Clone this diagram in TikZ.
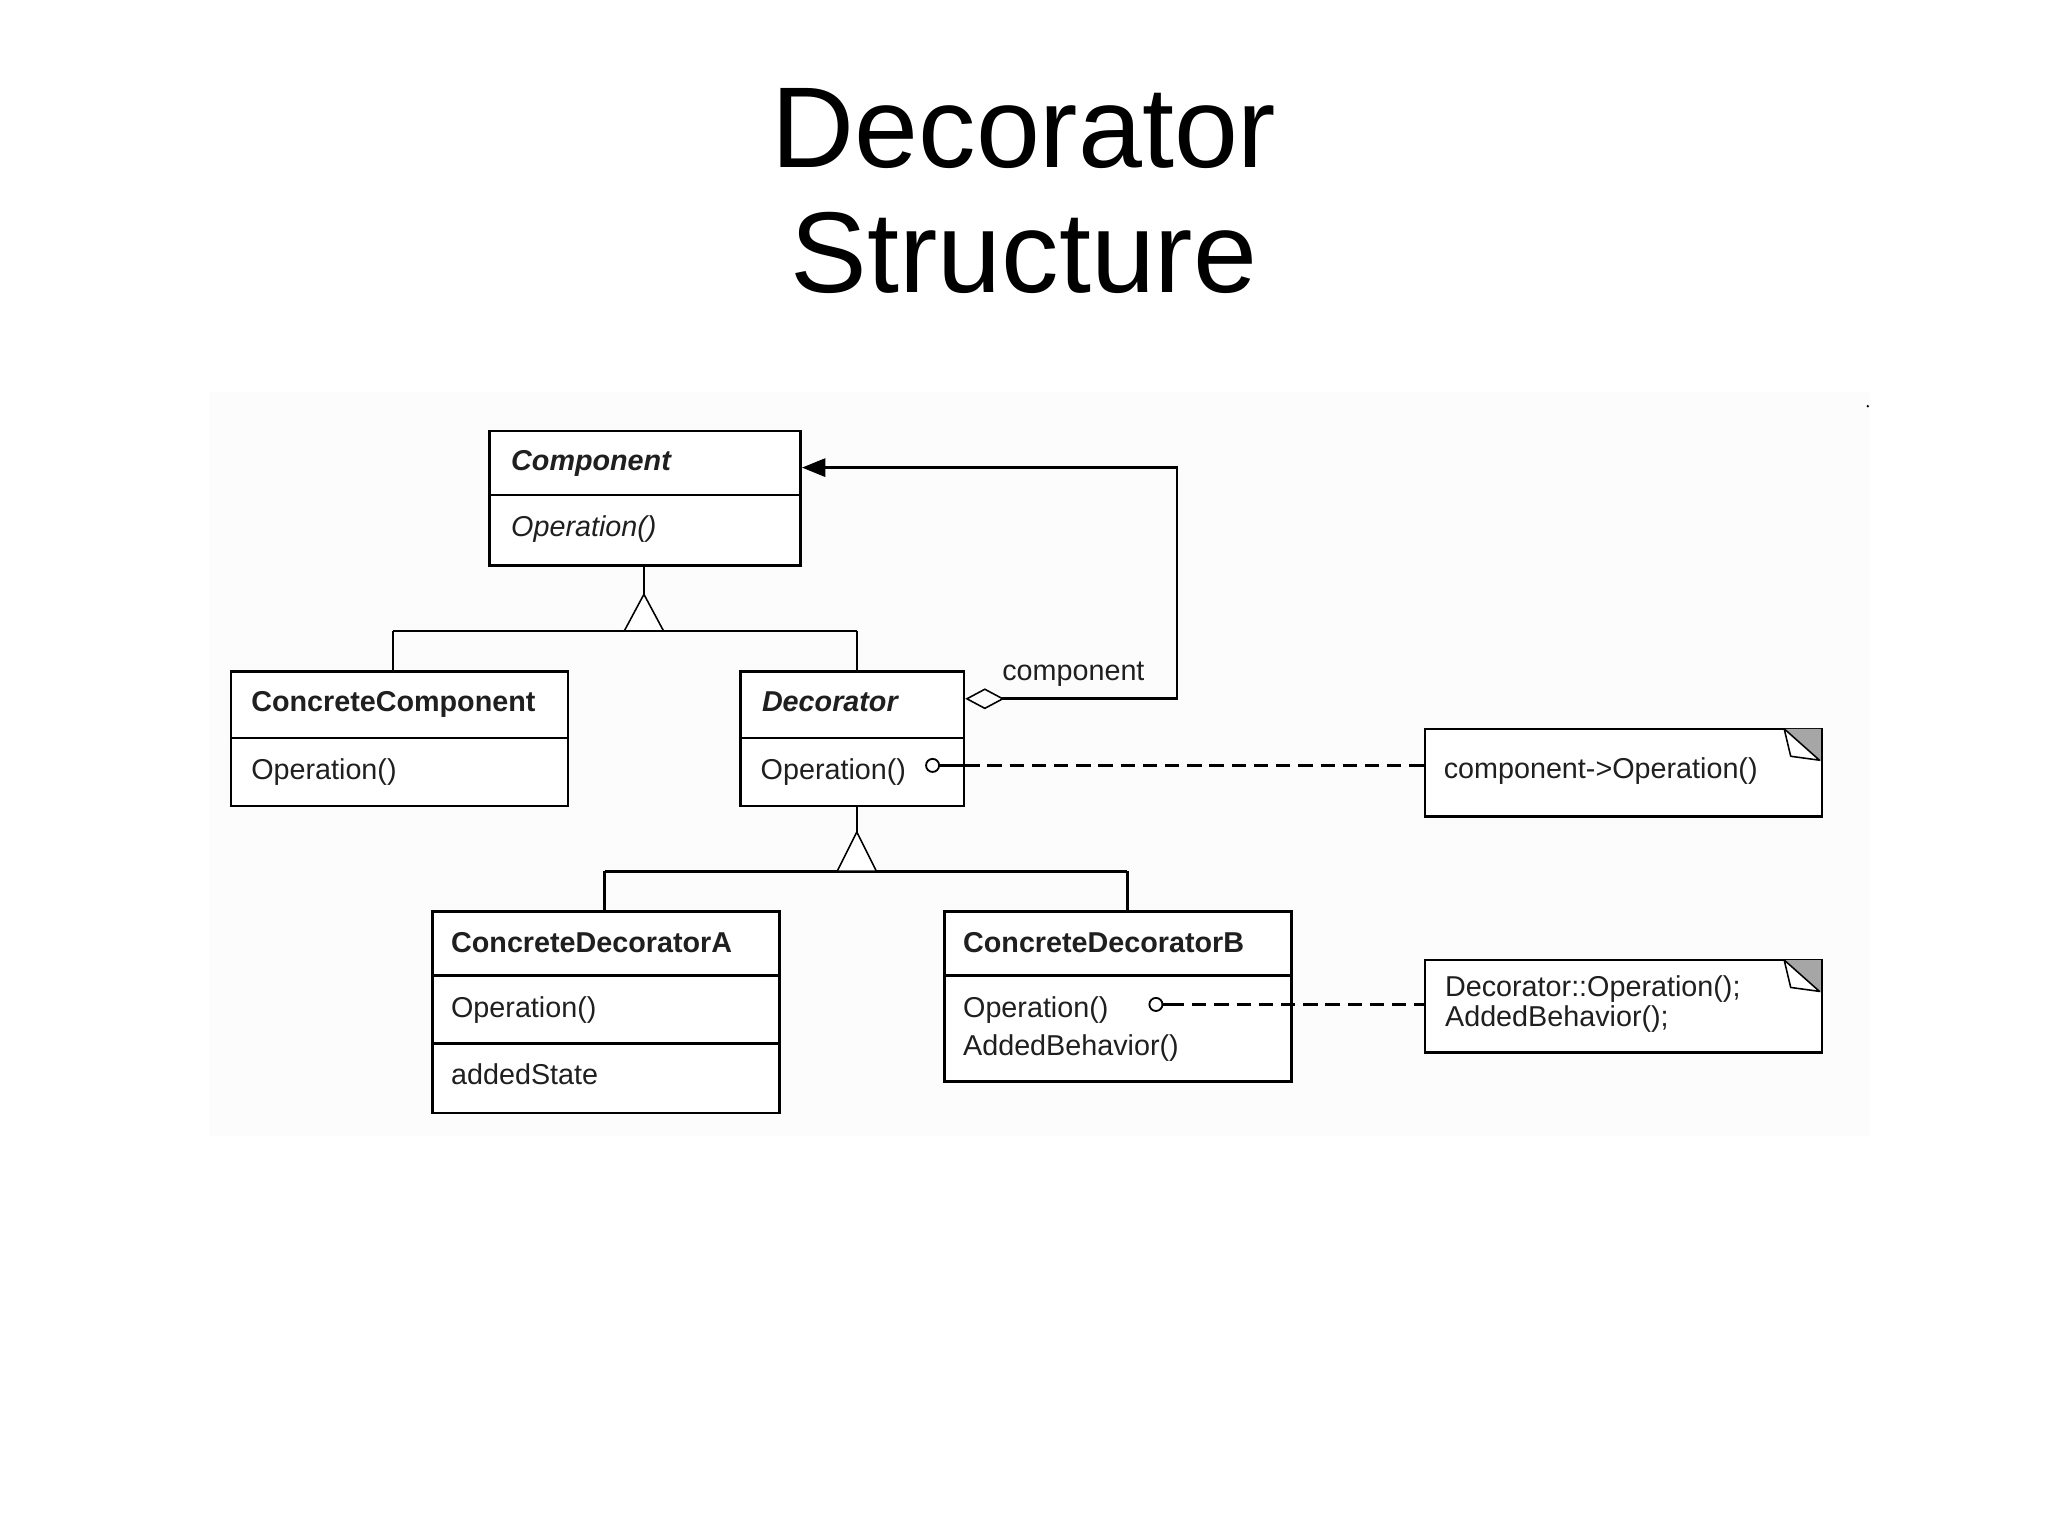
\documentclass[tikz,border=0pt]{standalone}
\usepackage{fontspec}
\setmainfont{Liberation Sans}
\usetikzlibrary{calc,arrows.meta}
\begin{document}
\begin{tikzpicture}[x=0.5pt,y=-0.5pt,
  cls/.style={draw, line width=1pt, anchor=north west, inner sep=0pt, fill=white},
  lbl/.style={anchor=base west, inner sep=0pt, font=\fontsize{11}{13}\selectfont, text=black!88},
  ttl/.style={anchor=base, inner sep=0pt, font=\fontsize{44}{48}\selectfont},
  divider/.style={line width=1pt},
  conn/.style={line width=1pt},
  gentri/.style={line width=0.6pt, fill=white},
  dashconn/.style={line width=1pt, dash pattern=on 5.5pt off 3pt},
  port/.style={circle, draw, line width=0.7pt, fill=white, inner sep=0pt, minimum size=5pt},
  fold/.style={fill=black!35},
  flap/.style={fill=white, draw, line width=0.6pt, line join=round}
]
\useasboundingbox (0,0) rectangle (1568,1175);
\fill[black!1] (160,300) rectangle (1432,870);
\fill[black] (1430,311) circle (1);

% title
\node[ttl] (t1) at (784,128) {Decorator};
\node[ttl] (t2) at (784,224) {Structure};

% class boxes
\node[cls, minimum width=119pt, minimum height=51.5pt] (comp) at (374,329) {};
\node[cls, minimum width=129pt, minimum height=51.5pt] (cc) at (176,513) {};
\node[cls, minimum width=85.5pt, minimum height=51.5pt] (dec) at (566,513) {};
\node[cls, minimum width=133pt, minimum height=77pt] (cda) at (330,697) {};
\node[cls, minimum width=133pt, minimum height=65pt] (cdb) at (722,697) {};
\node[cls, minimum width=152pt, minimum height=33.5pt] (n1) at (1090,557) {};
\node[cls, minimum width=152pt, minimum height=35.5pt] (n2) at (1090,734) {};

% dividers
\draw[divider] (comp.west |- 0,379) -- (comp.east |- 0,379);
\draw[divider] (cc.west |- 0,565) -- (cc.east |- 0,565);
\draw[divider] (dec.west |- 0,565) -- (dec.east |- 0,565);
\draw[divider] (cda.west |- 0,747) -- (cda.east |- 0,747);
\draw[divider] (cda.west |- 0,799) -- (cda.east |- 0,799);
\draw[divider] (cdb.west |- 0,747) -- (cdb.east |- 0,747);

% texts
\node[lbl, font=\fontsize{11}{13}\selectfont\bfseries\itshape] (compname) at (391,360) {Component};
\node[lbl, font=\fontsize{11}{13}\selectfont\itshape] (compop) at (391,411) {Operation()};
\node[lbl, font=\fontsize{11}{13}\selectfont\bfseries] (ccname) at (192,545) {ConcreteComponent};
\node[lbl] (ccop) at (192,597) {Operation()};
\node[lbl, font=\fontsize{11}{13}\selectfont\bfseries\itshape] (decname) at (583,545) {Decorator};
\node[lbl] (decop) at (582,597) {Operation()};
\node[lbl, font=\fontsize{11}{13}\selectfont\bfseries] (cdaname) at (345,729) {ConcreteDecoratorA};
\node[lbl] (cdaop) at (345,779) {Operation()};
\node[lbl] (cdast) at (345,830) {addedState};
\node[lbl, font=\fontsize{11}{13}\selectfont\bfseries] (cdbname) at (737,729) {ConcreteDecoratorB};
\node[lbl] (cdbop) at (737,779) {Operation()};
\node[lbl] (cdbab) at (737,808) {AddedBehavior()};
\node[lbl] (n1t) at (1105,596) {component->Operation()};
\node[lbl] (n2t) at (1106,763) {Decorator::Operation();};
\node[lbl] (n2u) at (1106,786) {AddedBehavior();};
\node[lbl] (agglbl) at (767,521) {component};

% note folded corners
\fill[fold] (1366,558) -- (1394,558) -- (1394,583) -- cycle;
\draw[flap] (1366,558) -- (1371,579) -- (1393,582) -- cycle;
\fill[fold] (1366,735) -- (1394,735) -- (1394,760) -- cycle;
\draw[flap] (1366,735) -- (1371,756) -- (1393,759) -- cycle;

% generalization 1
\coordinate (apex1) at (493,455);
\coordinate (j1l) at (301,483);
\coordinate (j1r) at (656,483);
\draw[conn] (apex1 |- comp.south) -- (apex1);
\draw[conn] (j1l) -- (j1r);
\draw[conn] (j1l) -- (j1l |- cc.north);
\draw[conn] (j1r) -- (j1r |- dec.north);
\draw[gentri] (apex1) -- (478,483) -- (508,483) -- cycle;

% generalization 2
\coordinate (apex2) at (656,637);
\coordinate (j2l) at (463,667);
\coordinate (j2r) at (863,667);
\draw[conn] (apex2 |- dec.south) -- (apex2);
\draw[conn] (j2l) -- (j2r);
\draw[conn] (j2l) -- (j2l |- cda.north);
\draw[conn] (j2r) -- (j2r |- cdb.north);
\draw[gentri] (apex2) -- (641,667) -- (671,667) -- cycle;

% aggregation
\coordinate (aggstart) at (dec.east |- 0,535);
\coordinate (aggend) at (comp.east |- 0,358);
\draw[conn, {Diamond[open,length=15pt,width=8pt,line width=0.6pt]}-{Triangle[length=9pt,width=7pt]}]
  (aggstart) -- (901,535) -- (901,358) -- (aggend);

% ports and dashed links
\node[port] (p1) at (714,586) {};
\node[port] (p2) at (885,769) {};
\draw[line width=1pt] (p1.east) -- (dec.east |- p1);
\draw[dashconn] (dec.east |- p1) -- (n1.west |- p1);
\draw[line width=1pt] (p2.east) -- ++(5,0) coordinate (p2e);
\draw[dashconn] (p2e) -- (n2.west |- p2);
\end{tikzpicture}
\end{document}
